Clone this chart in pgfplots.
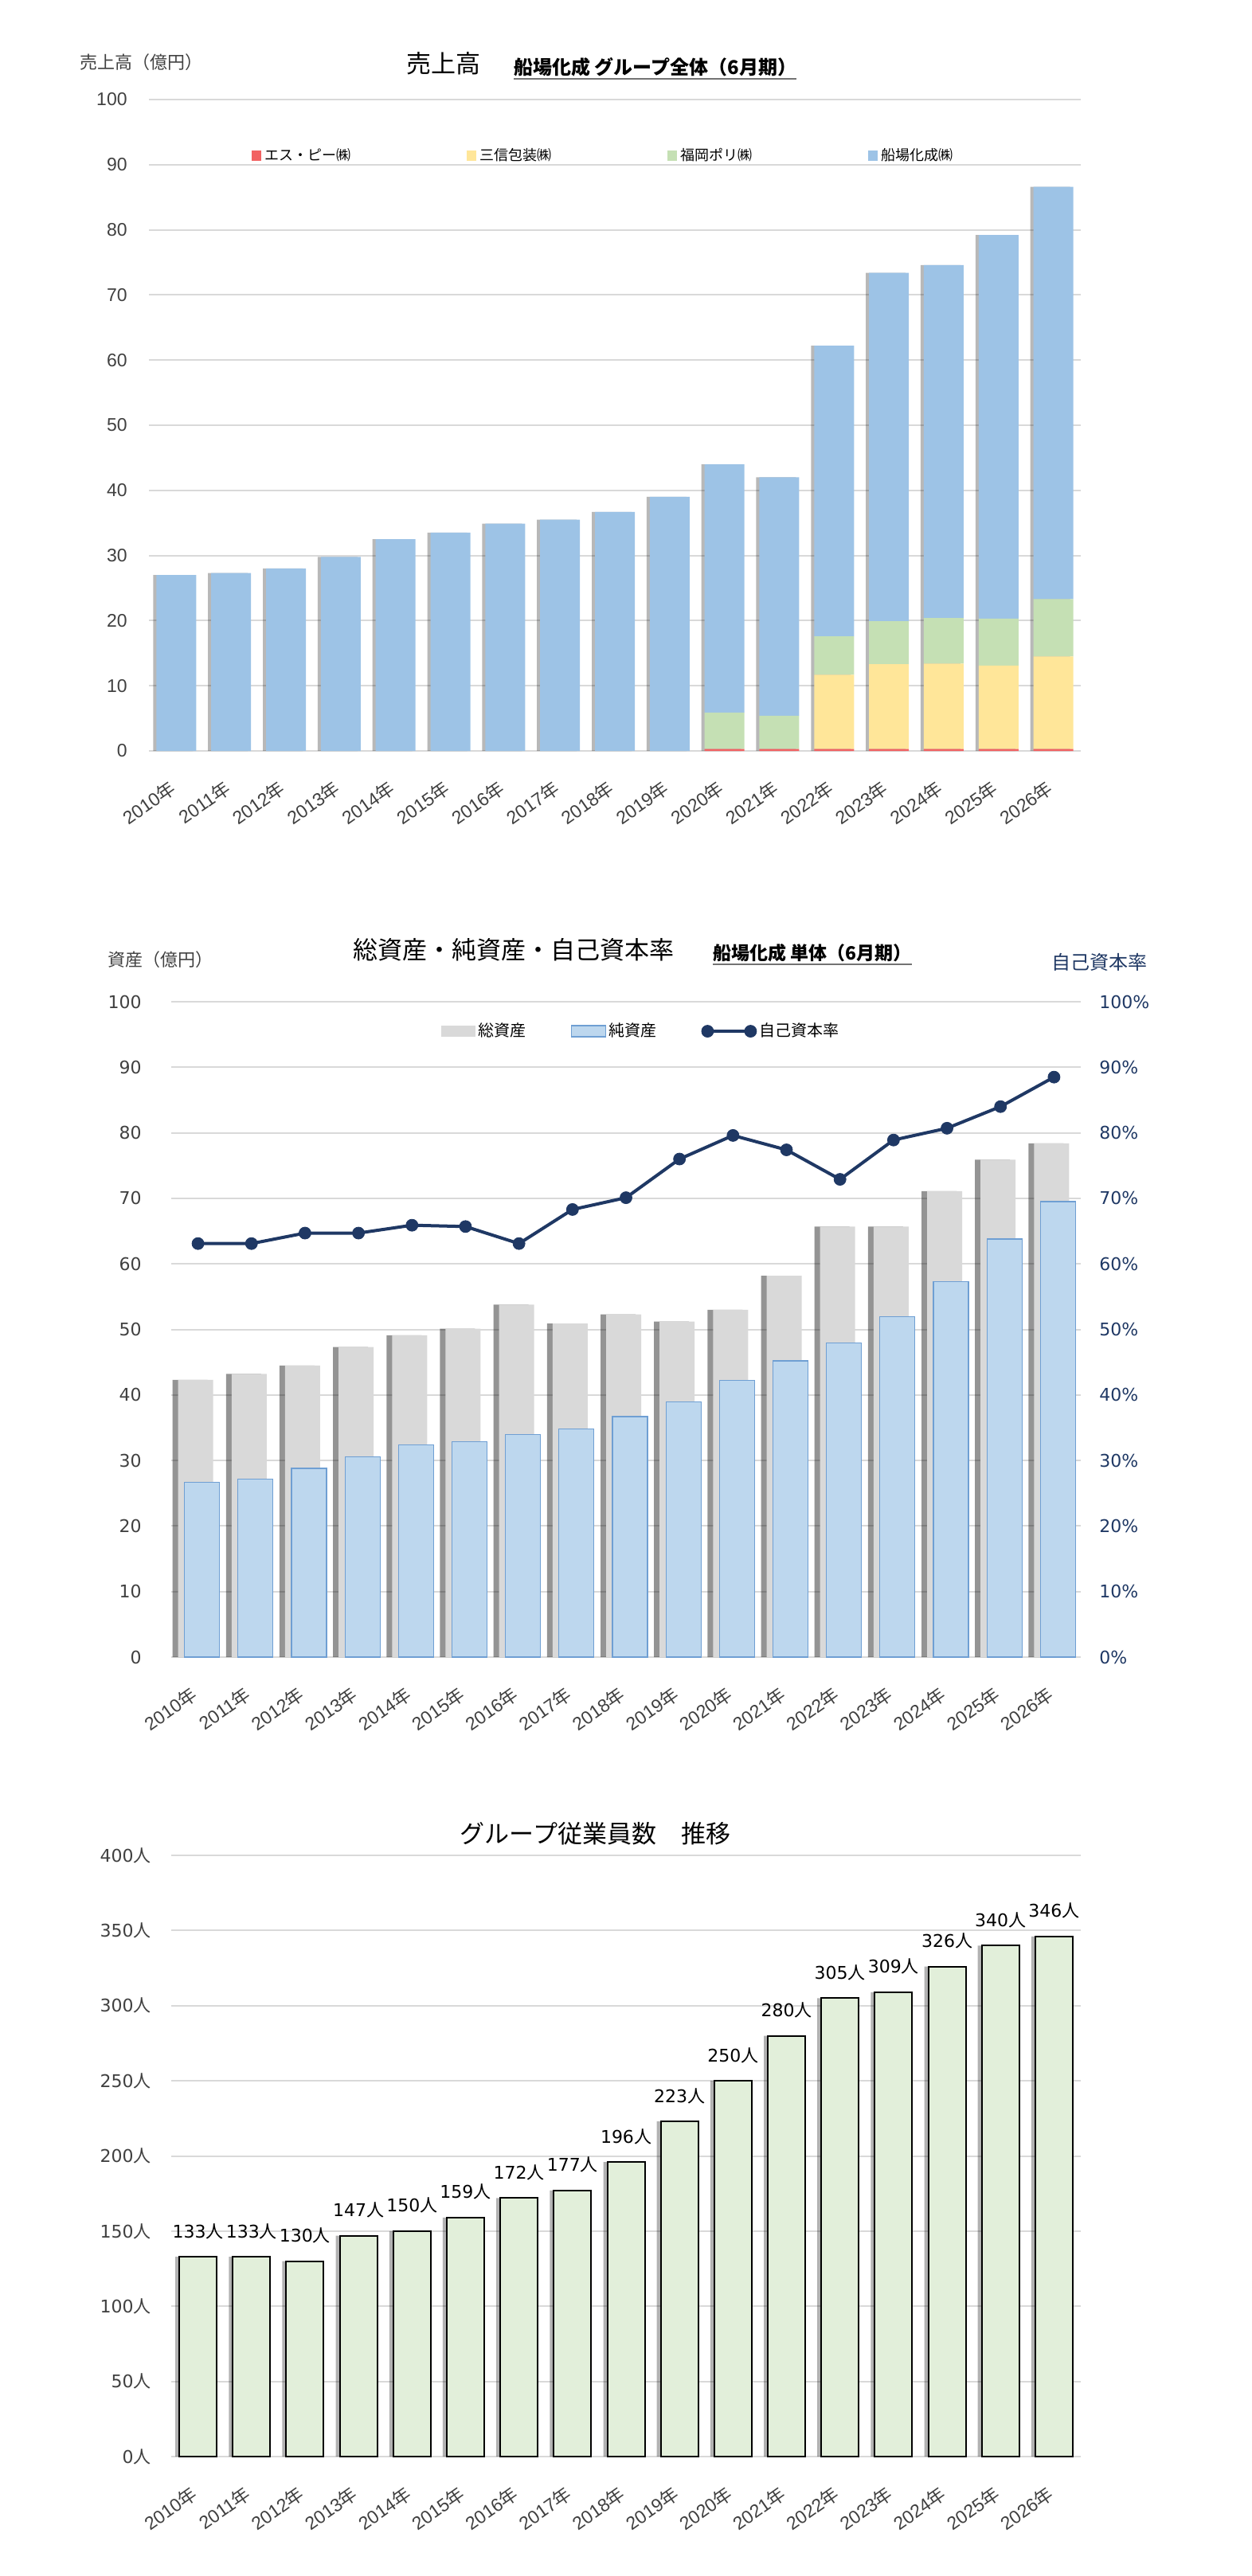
\documentclass[border=0pt]{standalone}
\usepackage{fontspec}
\setmainfont{Liberation Sans}
\newfontfamily\dv{DejaVu Sans}
\newfontfamily\jp{Noto Sans CJK JP}
\usepackage{pgfplots}
\pgfplotsset{compat=1.18}
\usepackage{pgfplotstable}

\definecolor{gridc}{HTML}{D9D9D9}
\definecolor{tk}{HTML}{404040}
\definecolor{cblue}{HTML}{9DC3E6}
\definecolor{cyel}{HTML}{FFE699}
\definecolor{cgrn}{HTML}{C5E0B4}
\definecolor{cred}{HTML}{F26262}
\definecolor{tgray}{HTML}{D9D9D9}
\definecolor{nblue}{HTML}{BDD7EE}
\definecolor{nbord}{HTML}{6F9FD3}
\definecolor{navy}{HTML}{1F3864}
\definecolor{egrn}{HTML}{E2EFDA}

\newcommand\yr[1]{#1{\jp 年}}

\pgfplotstableread{
x red yel grn blu tot
0  0   0    0   27.0 27.0
1  0   0    0   27.3 27.3
2  0   0    0   28.0 28.0
3  0   0    0   29.8 29.8
4  0   0    0   32.5 32.5
5  0   0    0   33.5 33.5
6  0   0    0   34.9 34.9
7  0   0    0   35.5 35.5
8  0   0    0   36.7 36.7
9  0   0    0   39.0 39.0
10 0.3 0    5.6 38.1 44.0
11 0.3 0    5.1 36.6 42.0
12 0.3 11.4 5.9 44.6 62.2
13 0.3 13.0 6.6 53.5 73.4
14 0.3 13.1 7.0 54.2 74.6
15 0.3 12.8 7.2 58.9 79.2
16 0.3 14.2 8.8 63.3 86.6
}\sales

\pgfplotstableread{
x tot net ratio
0  42.3 26.7 63.1
1  43.2 27.2 63.1
2  44.5 28.8 64.7
3  47.3 30.6 64.7
4  49.1 32.4 65.9
5  50.1 32.9 65.7
6  53.8 34.0 63.1
7  50.9 34.8 68.3
8  52.3 36.7 70.1
9  51.2 38.9 76.0
10 53.0 42.2 79.6
11 58.2 45.2 77.4
12 65.7 47.9 72.9
13 65.7 51.9 78.9
14 71.1 57.3 80.7
15 75.9 63.8 84.0
16 78.4 69.5 88.5
}\assets

\pgfplotstableread{
x emp
0  133
1  133
2  130
3  147
4  150
5  159
6  172
7  177
8  196
9  223
10 250
11 280
12 305
13 309
14 326
15 340
16 346
}\staff

\pgfplotsset{
  base/.style={
    scale only axis, anchor=south west,
    xmin=-0.5, xmax=16.5, enlargelimits=false,
    axis line style={draw=none}, major tick style={draw=none},
    ymajorgrids, grid style={color=gridc, line width=1pt},
    xtick={0,...,16},
    xticklabels={\yr{2010},\yr{2011},\yr{2012},\yr{2013},\yr{2014},\yr{2015},\yr{2016},\yr{2017},\yr{2018},\yr{2019},\yr{2020},\yr{2021},\yr{2022},\yr{2023},\yr{2024},\yr{2025},\yr{2026}},
    xticklabel style={font=\fontsize{11.5}{12}\selectfont, text=tk, inner sep=0pt, anchor=east, yshift=-17.5pt, xshift=-2pt, rotate=35},
    /pgf/number format/assume math mode=true,
  },
  sq/.style={legend image code/.code={\fill[##1] (0pt,-3.3pt) rectangle (6pt,3.3pt);}},
  grayleg/.style={legend image code/.code={\fill[tgray] (0pt,-3.5pt) rectangle (21.5pt,3.5pt);}},
  blueleg/.style={legend image code/.code={\filldraw[fill=nblue, draw=nbord, line width=0.6pt] (0pt,-3.5pt) rectangle (21.5pt,3.5pt);}},
  lineleg/.style={legend image code/.code={\draw[##1] plot coordinates {(0pt,0pt) (27pt,0pt)};}},
}

\begin{document}
\begin{tikzpicture}
\path[use as bounding box] (0pt,0pt) rectangle (785.5pt,-1617.5pt);

% ================= TOP CHART =================
\node[anchor=base west, font=\jp\fontsize{11}{12}\selectfont, text=tk, inner sep=0pt] at (50pt,-43pt) {売上高（億円）};
\node[anchor=base, font=\jp\fontsize{15.5}{16}\selectfont, inner sep=0pt] at (278.5pt,-45.5pt) {売上高};
\node[anchor=base west, font=\jp\bfseries\fontsize{12}{13}\selectfont, inner sep=0pt] (sub1) at (322.5pt,-46.5pt) {船場化成 グループ全体（6月期）};
\draw[line width=1.2pt, black!55] ([yshift=-3pt]sub1.base west) -- ([yshift=-3pt]sub1.base east);

\begin{axis}[base, at={(93.5pt,-471.5pt)}, width=585pt, height=409pt,
  ymin=0, ymax=100, ytick={0,10,...,100},
  yticklabel style={font=\fontsize{11.5}{12}\selectfont, text=tk, inner sep=0pt, xshift=-13.5pt},
  ybar, bar width=25pt]
  \addplot[fill=black, opacity=0.28, draw=none, bar shift=-2pt, forget plot] table[x=x, y=tot] {\sales};
\end{axis}

\begin{axis}[scale only axis, anchor=south west, at={(93.5pt,-471.5pt)}, width=585pt, height=409pt,
  xmin=-0.5, xmax=16.5, ymin=0, ymax=100, enlargelimits=false, hide axis,
  ybar stacked, bar width=25pt,
  legend style={at={(0.105,0.914)}, anchor=west, draw=none, fill=none,
    font=\jp\fontsize{9}{10}\selectfont, legend columns=4,
    /tikz/every even column/.append style={column sep=71pt}}]
  \addplot[fill=cred, draw=none, sq] table[x=x, y=red] {\sales};
  \addlegendentry{エス・ピー㈱}
  \addplot[fill=cyel, draw=none, sq] table[x=x, y=yel] {\sales};
  \addlegendentry{三信包装㈱}
  \addplot[fill=cgrn, draw=none, sq] table[x=x, y=grn] {\sales};
  \addlegendentry{福岡ポリ㈱}
  \addplot[fill=cblue, draw=none, sq] table[x=x, y=blu] {\sales};
  \addlegendentry{船場化成㈱}
\end{axis}

% ================= MIDDLE CHART =================
\node[anchor=base west, font=\jp\fontsize{11}{12}\selectfont, text=tk, inner sep=0pt] at (67.5pt,-606.5pt) {資産（億円）};
\node[anchor=base, font=\jp\fontsize{15.5}{16}\selectfont, inner sep=0pt] at (322.5pt,-602pt) {総資産・純資産・自己資本率};
\node[anchor=base west, font=\jp\bfseries\fontsize{11.5}{12}\selectfont, inner sep=0pt] (sub2) at (447.5pt,-602.5pt) {船場化成 単体（6月期）};
\draw[line width=1.2pt, black!55] ([yshift=-3pt]sub2.base west) -- ([yshift=-3pt]sub2.base east);
\node[anchor=base west, font=\jp\fontsize{12}{13}\selectfont, text=navy, inner sep=0pt] at (660pt,-608.5pt) {自己資本率};

\begin{axis}[base, at={(107.5pt,-1040.5pt)}, width=571pt, height=411.5pt,
  ymin=0, ymax=100, ytick={0,10,...,100},
  yticklabel style={font=\dv\fontsize{11}{12}\selectfont, text=tk, inner sep=0pt, xshift=-18.5pt},
  ybar, bar width=22pt,
  legend style={at={(0.291,0.955)}, anchor=west, draw=none, fill=none,
    font=\jp\fontsize{10}{11}\selectfont, legend columns=3,
    /tikz/every even column/.append style={column sep=26pt}}]
  \addplot[fill=black, opacity=0.42, draw=none, bar shift=-5pt, forget plot] table[x=x, y=tot] {\assets};
  \addplot[fill=tgray, draw=none, bar shift=-1.5pt, grayleg] table[x=x, y=tot] {\assets};
  \addlegendentry{総資産}
  \addplot[fill=nblue, draw=nbord, line width=0.6pt, bar shift=2.5pt, blueleg] table[x=x, y=net] {\assets};
  \addlegendentry{純資産}
  \addplot[sharp plot, color=navy, line width=2pt, mark=*, mark size=3.75pt,
    mark options={solid, fill=navy, draw=navy, line width=0.4pt}, lineleg] table[x=x, y=ratio] {\assets};
  \addlegendentry{自己資本率}
\end{axis}

\begin{axis}[scale only axis, anchor=south west, at={(107.5pt,-1040.5pt)}, width=571pt, height=411.5pt,
  xmin=-0.5, xmax=16.5, ymin=0, ymax=100, enlargelimits=false,
  axis x line=none, axis y line*=right, axis line style={draw=none}, major tick style={draw=none},
  ytick={0,10,...,100}, yticklabel={\pgfmathprintnumber{\tick}\%},
  /pgf/number format/assume math mode=true,
  yticklabel style={font=\dv\fontsize{11}{12}\selectfont, text=navy, inner sep=0pt, xshift=11.5pt}]
  \addplot[draw=none] coordinates {(0,0)};
\end{axis}

% ================= BOTTOM CHART =================
\node[anchor=base, font=\jp\fontsize{15.5}{16}\selectfont, inner sep=0pt] at (373.75pt,-1157pt) {グループ従業員数　推移};

\begin{axis}[base, at={(107.5pt,-1542.5pt)}, width=571pt, height=377.5pt,
  ymin=0, ymax=400, ytick={0,50,...,400},
  yticklabel={\pgfmathprintnumber{\tick}{\jp 人}},
  yticklabel style={font=\dv\fontsize{11}{12}\selectfont, text=tk, inner sep=0pt, xshift=-12.5pt},
  ybar, bar width=23.5pt]
  \addplot[fill=black, opacity=0.3, draw=none, bar shift=-2.5pt, forget plot] table[x=x, y=emp] {\staff};
  \addplot[fill=egrn, draw=black, line width=1pt, bar shift=0pt,
    nodes near coords={\pgfmathprintnumber{\pgfplotspointmeta}{\jp 人}},
    nodes near coords style={font=\dv\fontsize{11}{12}\selectfont, text=black, anchor=base, yshift=12pt}]
    table[x=x, y=emp] {\staff};
\end{axis}

\end{tikzpicture}
\end{document}
